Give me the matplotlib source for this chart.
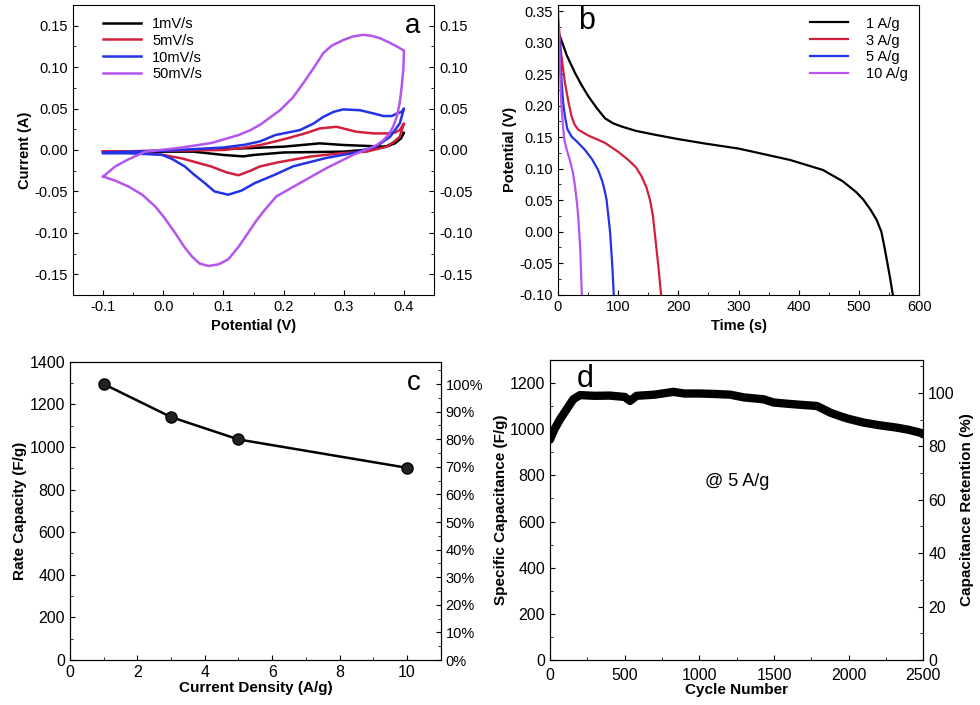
import matplotlib
matplotlib.use("Agg")
import matplotlib.pyplot as plt
from matplotlib.ticker import MultipleLocator, FuncFormatter

plt.rcParams['font.family'] = ['Liberation Sans', 'DejaVu Sans']
plt.rcParams['font.size'] = 10

RED = '#d21f3c'
BLUE = '#2233e6'
PURPLE = '#b455ee'

# ---- panel a: CV curves (closed loops, anodic then cathodic branch)
cv_labels = ['1mV/s', '5mV/s', '10mV/s', '50mV/s']
cv_1_x = [-0.1, 0.0, 0.1, 0.2, 0.26, 0.3, 0.37, 0.385, 0.395, 0.4,
          0.39, 0.37, 0.35, 0.3, 0.2, 0.15, 0.133, 0.1, 0.05, -0.1]
cv_1_y = [-0.002, -0.001, 0.001, 0.004, 0.008, 0.006, 0.004, 0.008, 0.014, 0.021,
          0.012, 0.004, 0.001, -0.002, -0.003, -0.006, -0.0077, -0.006, -0.002, -0.002]
cv_5_x = [-0.1, 0.0, 0.1, 0.136, 0.161, 0.19, 0.216, 0.24, 0.26, 0.288, 0.321, 0.35, 0.371, 0.385, 0.393, 0.4,
          0.393, 0.382, 0.371, 0.338, 0.294, 0.244, 0.19, 0.16, 0.145, 0.125, 0.105, 0.08, 0.05, 0.03, 0.0, -0.05, -0.1]
cv_5_y = [-0.002, -0.001, 0.0, 0.003, 0.006, 0.011, 0.016, 0.021, 0.026, 0.028, 0.022, 0.020, 0.020, 0.021, 0.024, 0.032,
          0.016, 0.009, 0.004, -0.002, -0.004, -0.008, -0.015, -0.020, -0.025, -0.0305, -0.027, -0.020, -0.014, -0.010, -0.006, -0.003, -0.002]
cv_10_x = [-0.1, 0.0, 0.1, 0.136, 0.161, 0.186, 0.227, 0.25, 0.266, 0.283, 0.299, 0.327, 0.35, 0.366, 0.38, 0.388, 0.396, 0.4,
           0.393, 0.377, 0.354, 0.316, 0.271, 0.216, 0.185, 0.152, 0.13, 0.108, 0.085, 0.069, 0.05, 0.036, 0.015, -0.0025, -0.058, -0.1]
cv_10_y = [-0.003, -0.001, 0.003, 0.0064, 0.0104, 0.018, 0.024, 0.032, 0.040, 0.046, 0.049, 0.048, 0.044, 0.041, 0.041, 0.044, 0.046, 0.050,
           0.032, 0.016, 0.0043, -0.0036, -0.0096, -0.0197, -0.030, -0.040, -0.049, -0.054, -0.050, -0.040, -0.029, -0.020, -0.011, -0.0057, -0.004, -0.004]
cv_50_x = [-0.1, -0.08, -0.06, -0.03, 0.025, 0.08, 0.125, 0.145, 0.162, 0.194, 0.215, 0.233, 0.25, 0.266, 0.28, 0.3, 0.315,
           0.332, 0.345, 0.36, 0.375, 0.388, 0.4,
           0.399, 0.396, 0.393, 0.388, 0.382, 0.375, 0.366, 0.355, 0.344, 0.316, 0.271, 0.227, 0.188, 0.169, 0.155, 0.141,
           0.125, 0.108, 0.092, 0.075, 0.06, 0.047, 0.035, 0.0196, 0.0, -0.0136, -0.035, -0.058, -0.08, -0.1]
cv_50_y = [-0.032, -0.02, -0.012, -0.002, 0.0024, 0.0084, 0.018, 0.024, 0.031, 0.048, 0.063, 0.081, 0.099, 0.117, 0.126, 0.133, 0.137,
           0.139, 0.138, 0.135, 0.130, 0.125, 0.120,
           0.097, 0.075, 0.057, 0.040, 0.028, 0.019, 0.012, 0.006, 0.0024, -0.0057, -0.022, -0.040, -0.056, -0.072, -0.085, -0.100,
           -0.117, -0.132, -0.138, -0.140, -0.137, -0.128, -0.117, -0.100, -0.080, -0.068, -0.054, -0.044, -0.037, -0.032]

# ---- panel b: discharge curves
gcd_labels = ['1 A/g', '3 A/g', '5 A/g', '10 A/g']
gcd_1_t = [3.8, 15, 28.7, 40, 50.8, 65, 78.5, 92, 106, 130, 161, 200, 244, 300, 385, 440, 473, 495, 507,
           519, 529, 537, 543, 551, 556]
gcd_1_v = [0.31, 0.28, 0.252, 0.232, 0.215, 0.196, 0.180, 0.172, 0.167, 0.160, 0.154, 0.147, 0.140, 0.132, 0.114,
           0.098, 0.080, 0.063, 0.051, 0.035, 0.019, 0.0, -0.029, -0.071, -0.1]
gcd_3_t = [2, 6, 12, 18, 23, 28, 34, 50, 78.5, 100, 117, 130, 139, 147, 153, 158, 161, 167, 171.5]
gcd_3_v = [0.325, 0.28, 0.236, 0.205, 0.183, 0.170, 0.162, 0.153, 0.141, 0.127, 0.114, 0.102, 0.088, 0.071, 0.051,
           0.025, -0.002, -0.055, -0.1]
gcd_5_t = [1, 4, 6.6, 9, 12, 16, 23, 33, 45, 57, 67, 74, 78, 81, 84, 87, 90.6, 93]
gcd_5_v = [0.335, 0.28, 0.236, 0.205, 0.183, 0.163, 0.151, 0.142, 0.130, 0.115, 0.098, 0.080, 0.065, 0.051, 0.025,
           -0.002, -0.055, -0.1]
gcd_10_t = [0.5, 2, 3.8, 5, 6.6, 9, 11, 15, 20, 25, 28.7, 32, 34, 37.5, 40]
gcd_10_v = [0.355, 0.31, 0.263, 0.225, 0.194, 0.165, 0.146, 0.130, 0.114, 0.095, 0.072, 0.045, 0.024, -0.029, -0.1]

# ---- panel c: rate capability
rate_density = [1, 3, 5, 10]
rate_capacity = [1295, 1140, 1035, 902]

# ---- panel d: cycling
cyc_n = [0, 30, 67, 112, 156, 201, 300, 400, 500, 536, 581, 700, 826, 900, 1000, 1100, 1206,
         1300, 1430, 1497, 1600, 1700, 1787, 1877, 1950, 2000, 2100, 2200, 2323, 2400, 2480, 2500]
cyc_c = [955, 1000, 1043, 1087, 1130, 1148, 1145, 1146, 1140, 1123, 1145, 1150, 1162, 1155, 1155, 1153, 1150,
         1138, 1130, 1116, 1110, 1105, 1101, 1072, 1055, 1045, 1029, 1018, 1007, 998, 985, 978]

fig = plt.figure(figsize=(9.8, 7.05), dpi=100)

lab = dict(fontsize=10.5, fontweight='bold')
lab2 = dict(fontsize=11, fontweight='bold')

# panel a
ax = fig.add_axes([0.0745, 0.5816, 0.3684, 0.4113])
for xs, ys, c, l in zip([cv_1_x, cv_5_x, cv_10_x, cv_50_x], [cv_1_y, cv_5_y, cv_10_y, cv_50_y],
                        ['black', RED, BLUE, PURPLE], cv_labels):
    ax.plot(xs, ys, color=c, lw=1.8, label=l)
ax.set_xlim(-0.15, 0.45)
ax.set_ylim(-0.175, 0.175)
ax.xaxis.set_minor_locator(MultipleLocator(0.05))
ax.yaxis.set_major_locator(MultipleLocator(0.05))
ax.yaxis.set_minor_locator(MultipleLocator(0.025))
ax.set_xticks([-0.1, 0.0, 0.1, 0.2, 0.3, 0.4])
ax.xaxis.set_major_formatter(FuncFormatter(lambda v, p: f'{v:.1f}'))
ax.yaxis.set_major_formatter(FuncFormatter(lambda v, p: f'{v:.2f}'))
ax.tick_params(which='both', direction='in', labelsize=10.5)
ax.tick_params(which='both', right=True, labelright=True)
ax.set_xlabel('Potential (V)', **lab)
ax.set_ylabel('Current (A)', **lab, labelpad=2)
ax.legend(loc='upper left', frameon=False, fontsize=10.5, handlelength=2.6,
          borderaxespad=0.4, labelspacing=0.2, bbox_to_anchor=(0.05, 1.0))
ax.text(0.414, 0.15, 'a', fontsize=20, ha='center', va='center')

# panel b
ax = fig.add_axes([0.5691, 0.582, 0.369, 0.411])
for ts, vs, c, l in zip([gcd_1_t, gcd_3_t, gcd_5_t, gcd_10_t], [gcd_1_v, gcd_3_v, gcd_5_v, gcd_10_v],
                        ['black', RED, BLUE, PURPLE], gcd_labels):
    ax.plot(ts, vs, color=c, lw=1.6, label=l)
ax.set_xlim(0, 600)
ax.set_ylim(-0.1, 0.36)
ax.xaxis.set_major_locator(MultipleLocator(100))
ax.xaxis.set_minor_locator(MultipleLocator(50))
ax.yaxis.set_major_locator(MultipleLocator(0.05))
ax.yaxis.set_minor_locator(MultipleLocator(0.025))
ax.yaxis.set_major_formatter(FuncFormatter(lambda v, p: f'{v:.2f}'))
ax.tick_params(which='both', direction='in', labelsize=10.5)
ax.set_xlabel('Time (s)', **lab)
ax.set_ylabel('Potential (V)', **lab, labelpad=2)
ax.legend(loc='upper right', frameon=False, fontsize=10.5, handlelength=2.6,
          labelspacing=0.2, borderaxespad=0.4, handletextpad=1.2)
ax.text(48, 0.334, 'b', fontsize=22, ha='center', va='center')

# panel c
ax = fig.add_axes([0.0714, 0.0638, 0.3783, 0.4232])
ax.plot(rate_density, rate_capacity, color='black', lw=1.8, marker='o', ms=8,
        markerfacecolor='#222222', markeredgecolor='black')
ax.set_xlim(0, 11)
ax.set_ylim(0, 1400)
ax.xaxis.set_major_locator(MultipleLocator(2))
ax.xaxis.set_minor_locator(MultipleLocator(1))
ax.yaxis.set_major_locator(MultipleLocator(200))
ax.yaxis.set_minor_locator(MultipleLocator(100))
ax.tick_params(which='both', direction='in', labelsize=11.5)
ax.set_xlabel('Current Density (A/g)', **lab2, labelpad=1)
ax.set_ylabel('Rate Capacity (F/g)', **lab2, labelpad=2)
ax.text(10.2, 1300, 'c', fontsize=20, ha='center', va='center')
axr = ax.twinx()
axr.set_ylim(0, 1400 / rate_capacity[0] * 100)
axr.yaxis.set_minor_locator(MultipleLocator(5))
axr.set_yticks(range(0, 101, 10))
axr.yaxis.set_major_formatter(FuncFormatter(lambda v, p: f'{v:.0f}%'))
axr.tick_params(which='both', direction='in', labelsize=10.5)

# panel d
ax = fig.add_axes([0.5612, 0.0638, 0.381, 0.4255])
ax.plot(cyc_n, cyc_c, color='black', lw=6, solid_capstyle='round')
ax.set_xlim(0, 2500)
ax.set_ylim(0, 1300)
ax.xaxis.set_major_locator(MultipleLocator(500))
ax.xaxis.set_minor_locator(MultipleLocator(250))
ax.yaxis.set_major_locator(MultipleLocator(200))
ax.yaxis.set_minor_locator(MultipleLocator(100))
ax.tick_params(which='both', direction='in', labelsize=11.5)
ax.tick_params(axis='x', pad=6)
ax.set_xlabel('Cycle Number', **lab2, labelpad=0)
ax.set_ylabel('Specific Capacitance (F/g)', **lab2, labelpad=1)
ax.text(1251, 775, '@ 5 A/g', fontsize=13, ha='center', va='center')
ax.text(235, 1217, 'd', fontsize=22, ha='center', va='center')
axr = ax.twinx()
axr.set_ylim(0, 1300 / 1158 * 100)
axr.yaxis.set_major_locator(MultipleLocator(20))
axr.yaxis.set_minor_locator(MultipleLocator(10))
axr.tick_params(which='both', direction='in', labelsize=11.5)
axr.set_ylabel('Capacitance Retention (%)', **lab2)

fig.savefig('out.png', dpi=100)
